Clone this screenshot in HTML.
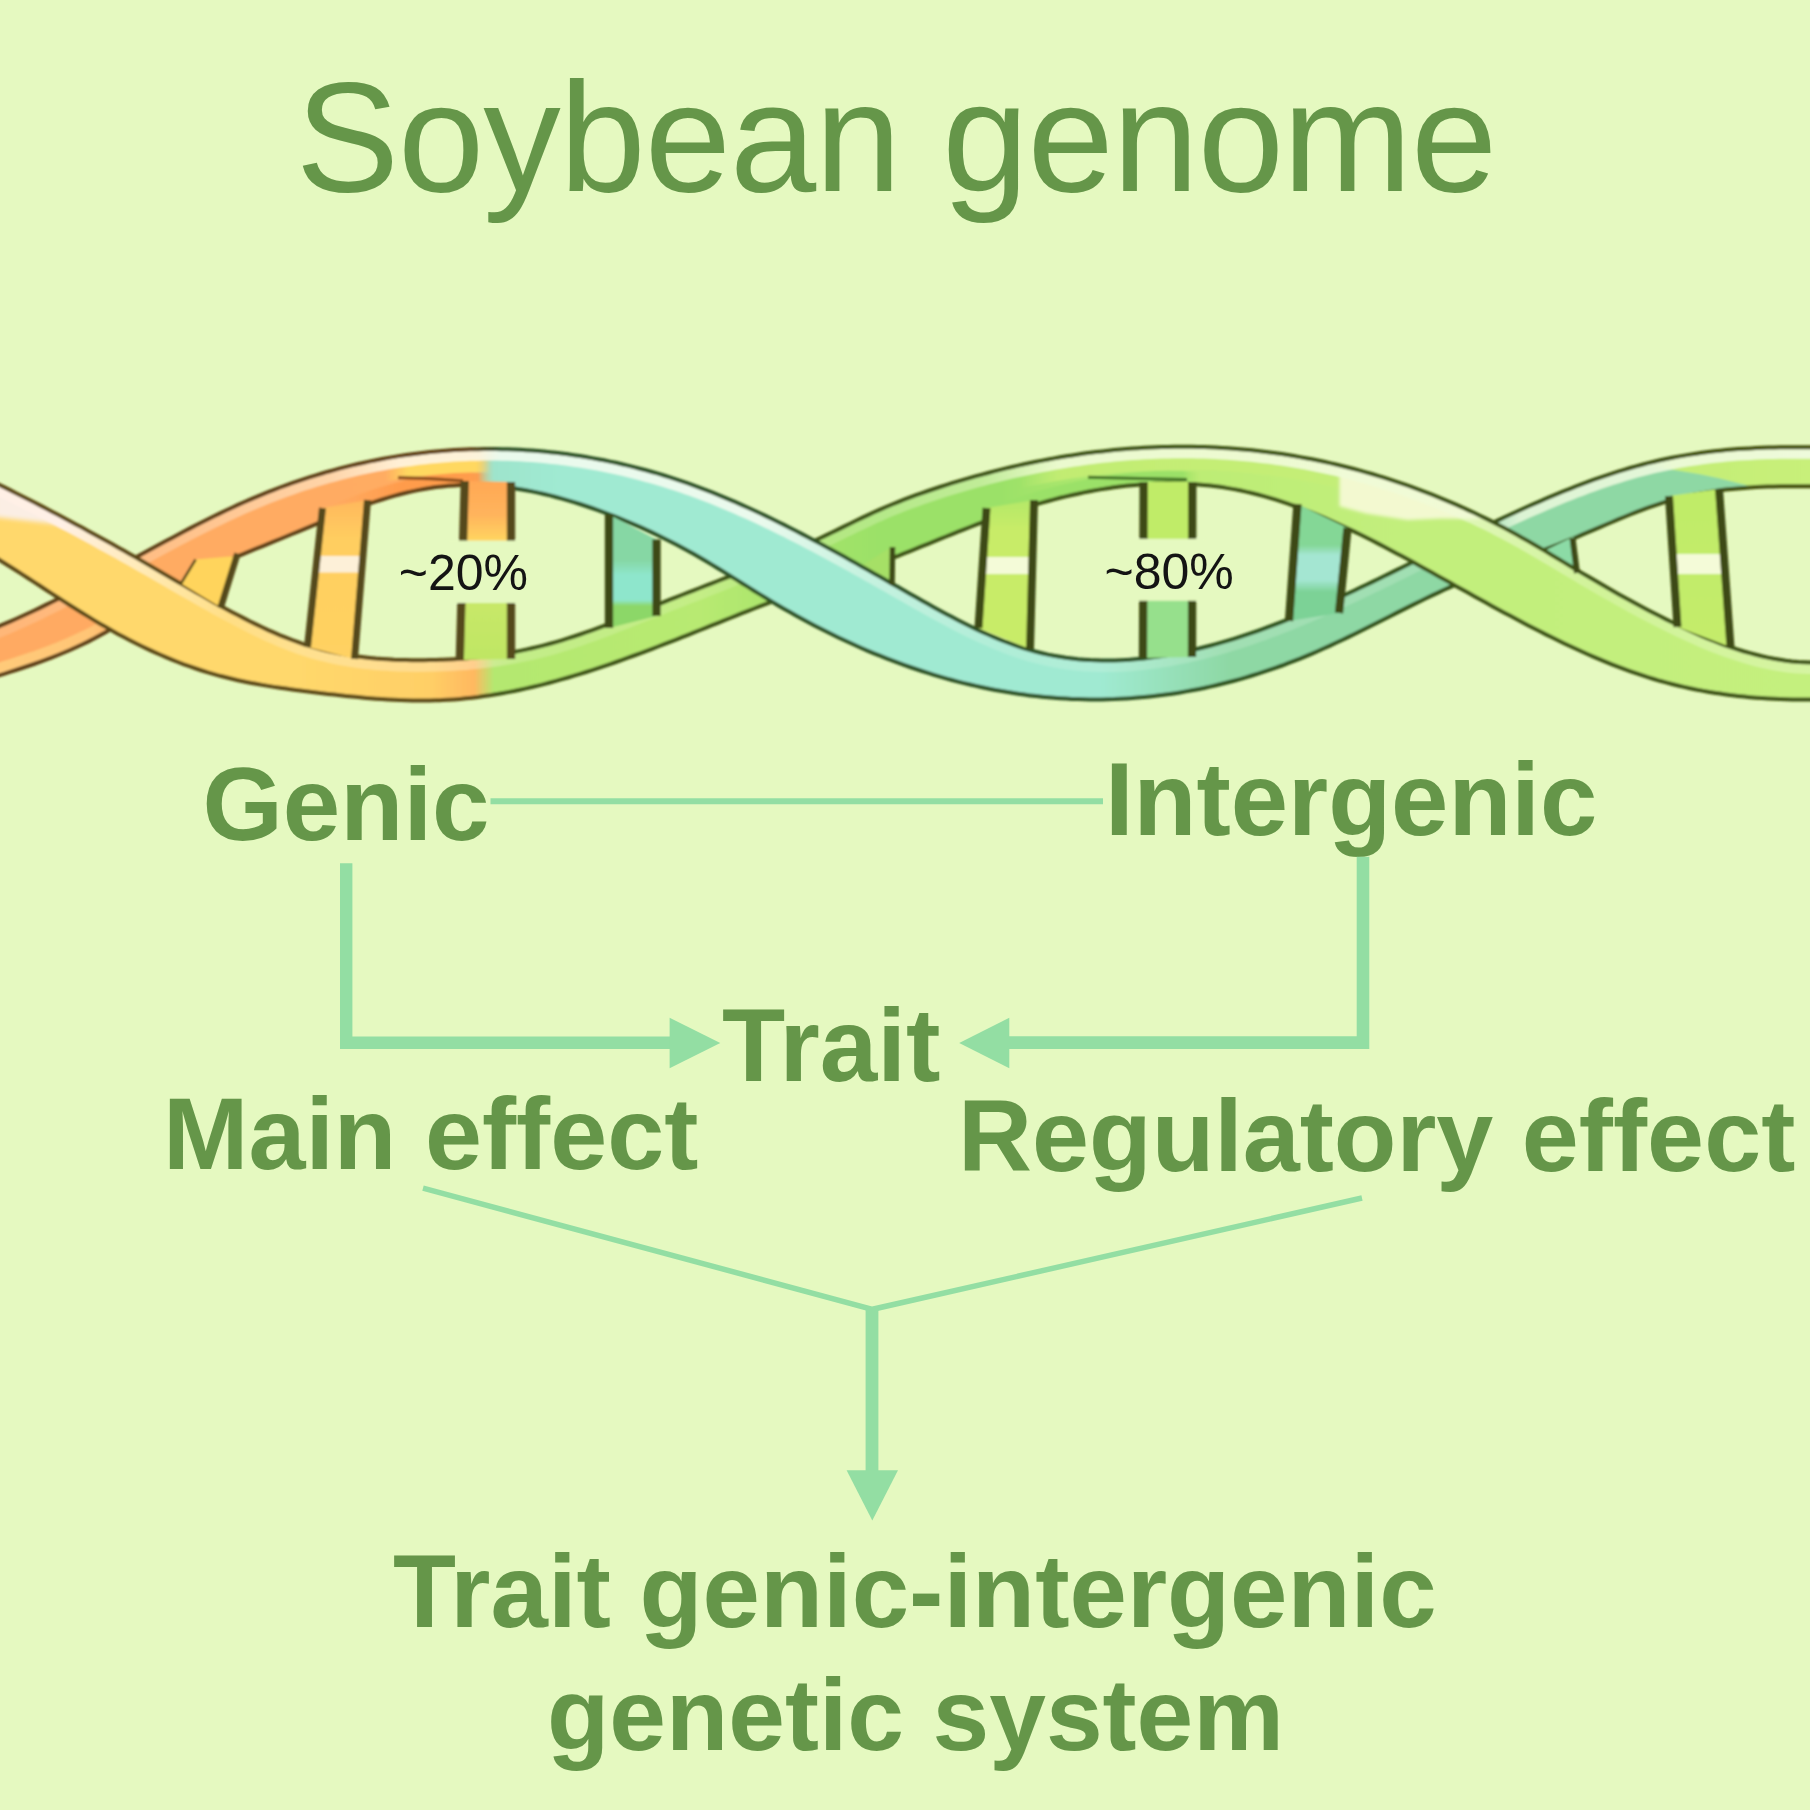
<!DOCTYPE html>
<html><head><meta charset="utf-8"><title>Soybean genome</title>
<style>
html,body{margin:0;padding:0;background:#e5f9c0;}
body{width:1810px;height:1810px;overflow:hidden;font-family:"Liberation Sans",sans-serif;}
svg{display:block;}
</style></head><body>
<svg width="1810" height="1810" viewBox="0 0 1810 1810">
<defs>
<linearGradient id="gA" gradientUnits="userSpaceOnUse" x1="0" y1="0" x2="1810" y2="0">
<stop offset="0.0000" stop-color="#ffd86c"/>
<stop offset="0.1657" stop-color="#ffd86c"/>
<stop offset="0.2376" stop-color="#ffcf66"/>
<stop offset="0.2619" stop-color="#ffb860"/>
<stop offset="0.2729" stop-color="#b4e870"/>
<stop offset="0.3867" stop-color="#b8ea72"/>
<stop offset="0.4420" stop-color="#a6e36a"/>
<stop offset="0.4862" stop-color="#9be168"/>
<stop offset="0.5525" stop-color="#9be168"/>
<stop offset="0.6409" stop-color="#bcec74"/>
<stop offset="0.7735" stop-color="#c2ef7c"/>
<stop offset="1.0000" stop-color="#c4f07e"/>
</linearGradient>
<linearGradient id="gB" gradientUnits="userSpaceOnUse" x1="0" y1="0" x2="1810" y2="0">
<stop offset="0.0000" stop-color="#ffaa62"/>
<stop offset="0.2210" stop-color="#ffac62"/>
<stop offset="0.2597" stop-color="#ffb662"/>
<stop offset="0.2729" stop-color="#9ee4cc"/>
<stop offset="0.3094" stop-color="#a0ead2"/>
<stop offset="0.6077" stop-color="#a0ead2"/>
<stop offset="0.6796" stop-color="#8ed8a4"/>
<stop offset="0.9088" stop-color="#8ed8a4"/>
<stop offset="0.9238" stop-color="#c4ee76"/>
<stop offset="1.0000" stop-color="#c8f07a"/>
</linearGradient>
<linearGradient id="oA" gradientUnits="userSpaceOnUse" x1="0" y1="0" x2="1810" y2="0">
<stop offset="0.0000" stop-color="#5c4814"/>
<stop offset="0.2597" stop-color="#5c4814"/>
<stop offset="0.2762" stop-color="#3e5212"/>
<stop offset="1.0000" stop-color="#3e5212"/>
</linearGradient>
<linearGradient id="oB" gradientUnits="userSpaceOnUse" x1="0" y1="0" x2="1810" y2="0">
<stop offset="0.0000" stop-color="#5e4016"/>
<stop offset="0.2597" stop-color="#5e4016"/>
<stop offset="0.2762" stop-color="#2e5228"/>
<stop offset="0.6077" stop-color="#2e5228"/>
<stop offset="0.6906" stop-color="#2e521c"/>
<stop offset="1.0000" stop-color="#44500f"/>
</linearGradient>
<linearGradient id="hA" gradientUnits="userSpaceOnUse" x1="0" y1="0" x2="1810" y2="0">
<stop offset="0.0000" stop-color="#fff0e6" stop-opacity="1.00"/>
<stop offset="0.0331" stop-color="#fff0e6" stop-opacity="1.00"/>
<stop offset="0.0773" stop-color="#fff2d8" stop-opacity="0.70"/>
<stop offset="0.1271" stop-color="#fff2d0" stop-opacity="0.25"/>
<stop offset="0.1657" stop-color="#fff2d0" stop-opacity="0.35"/>
<stop offset="0.2652" stop-color="#fff0d0" stop-opacity="0.40"/>
<stop offset="0.2873" stop-color="#eefad0" stop-opacity="0.25"/>
<stop offset="0.4420" stop-color="#eefad0" stop-opacity="0.20"/>
<stop offset="0.5414" stop-color="#eefad2" stop-opacity="0.45"/>
<stop offset="0.5856" stop-color="#eefbd4" stop-opacity="0.95"/>
<stop offset="0.7403" stop-color="#f0fbd8" stop-opacity="0.95"/>
<stop offset="0.8177" stop-color="#f0fbd8" stop-opacity="0.60"/>
<stop offset="0.8840" stop-color="#f0fbd8" stop-opacity="0.30"/>
<stop offset="1.0000" stop-color="#f0fbd8" stop-opacity="0.40"/>
</linearGradient>
<linearGradient id="hB" gradientUnits="userSpaceOnUse" x1="0" y1="0" x2="1810" y2="0">
<stop offset="0.0000" stop-color="#ffe8d0" stop-opacity="0.20"/>
<stop offset="0.0773" stop-color="#ffe8d0" stop-opacity="0.30"/>
<stop offset="0.1823" stop-color="#fff0d8" stop-opacity="0.60"/>
<stop offset="0.2210" stop-color="#fff4dc" stop-opacity="0.95"/>
<stop offset="0.2652" stop-color="#fdf6e0" stop-opacity="0.95"/>
<stop offset="0.2762" stop-color="#eefbee" stop-opacity="0.95"/>
<stop offset="0.4199" stop-color="#eefbee" stop-opacity="0.95"/>
<stop offset="0.4751" stop-color="#eefbee" stop-opacity="0.50"/>
<stop offset="0.5525" stop-color="#eefbee" stop-opacity="0.20"/>
<stop offset="0.8177" stop-color="#eefbee" stop-opacity="0.20"/>
<stop offset="0.8398" stop-color="#f0fbe0" stop-opacity="0.80"/>
<stop offset="1.0000" stop-color="#f0fbe0" stop-opacity="0.95"/>
</linearGradient>
<linearGradient id="tB" gradientUnits="userSpaceOnUse" x1="0" y1="0" x2="1810" y2="0">
<stop offset="0.0000" stop-color="#ffd07e" stop-opacity="0.85"/>
<stop offset="0.0497" stop-color="#ffd07e" stop-opacity="0.70"/>
<stop offset="0.0746" stop-color="#ffd07e" stop-opacity="0.00"/>
<stop offset="0.1823" stop-color="#ff9c4c" stop-opacity="0.00"/>
<stop offset="0.2210" stop-color="#ff9a4a" stop-opacity="0.90"/>
<stop offset="0.2641" stop-color="#ff9a4a" stop-opacity="0.90"/>
<stop offset="0.2718" stop-color="#8fdcc0" stop-opacity="0.00"/>
<stop offset="1.0000" stop-color="#7fd79c" stop-opacity="0.00"/>
</linearGradient>
<linearGradient id="tA" gradientUnits="userSpaceOnUse" x1="0" y1="0" x2="1810" y2="0">
<stop offset="0.0000" stop-color="#9be168" stop-opacity="0.00"/>
<stop offset="0.5304" stop-color="#9be168" stop-opacity="0.00"/>
<stop offset="0.5746" stop-color="#9be168" stop-opacity="1.00"/>
<stop offset="0.6536" stop-color="#9be168" stop-opacity="1.00"/>
<stop offset="0.6630" stop-color="#a8e464" stop-opacity="0.00"/>
<stop offset="1.0000" stop-color="#9be168" stop-opacity="0.00"/>
</linearGradient>
<clipPath id="cA_d"><rect x="-30" y="400" width="470" height="350"/><rect x="1190" y="400" width="660" height="350"/></clipPath>
<clipPath id="cA_a"><rect x="440" y="400" width="750" height="350"/></clipPath>
<clipPath id="cB_d"><rect x="470" y="400" width="660" height="350"/></clipPath>
<clipPath id="cB_a"><rect x="-30" y="400" width="500" height="350"/><rect x="1130" y="400" width="720" height="350"/></clipPath>
<path id="pRibA" d="M-20.0 475.3L-14.0 478.2L-8.0 481.2L-2.0 484.2L4.0 487.1L10.0 490.1L16.0 493.2L22.0 496.2L28.0 499.3L34.0 502.3L40.0 505.4L46.0 508.6L52.0 511.7L58.0 514.8L64.0 518.0L70.0 521.2L76.0 524.4L82.0 527.6L88.0 530.9L94.0 534.2L100.0 537.5L106.0 540.8L112.0 544.1L118.0 547.4L124.0 550.8L130.0 554.2L136.0 557.6L142.0 561.1L148.0 564.5L154.0 568.0L160.0 571.5L166.0 574.9L172.0 578.4L178.0 581.9L184.0 585.3L190.0 588.8L196.0 592.2L202.0 595.6L208.0 599.0L214.0 602.4L220.0 605.7L226.0 608.9L232.0 612.2L238.0 615.3L244.0 618.4L250.0 621.5L256.0 624.4L262.0 627.3L268.0 630.1L274.0 632.7L280.0 635.3L286.0 637.7L292.0 640.0L298.0 642.2L304.0 644.3L310.0 646.2L316.0 647.9L322.0 649.5L328.0 651.0L334.0 652.3L340.0 653.5L346.0 654.6L352.0 655.6L358.0 656.5L364.0 657.2L370.0 657.9L376.0 658.5L382.0 658.9L388.0 659.3L394.0 659.7L400.0 659.9L406.0 660.1L412.0 660.2L418.0 660.2L424.0 660.2L430.0 660.1L436.0 660.0L442.0 659.8L448.0 659.5L454.0 659.2L460.0 658.8L466.0 658.4L472.0 657.8L478.0 657.2L484.0 656.6L490.0 655.8L496.0 655.0L502.0 654.1L508.0 653.1L514.0 652.0L520.0 650.9L526.0 649.6L532.0 648.3L538.0 646.9L544.0 645.4L550.0 643.8L556.0 642.1L562.0 640.3L568.0 638.4L574.0 636.5L580.0 634.5L586.0 632.4L592.0 630.3L598.0 628.1L604.0 625.8L610.0 623.6L616.0 621.2L622.0 618.9L628.0 616.5L634.0 614.1L640.0 611.7L646.0 609.3L652.0 606.9L658.0 604.5L664.0 602.1L670.0 599.7L676.0 597.4L682.0 595.0L688.0 592.7L694.0 590.3L700.0 588.0L706.0 585.6L712.0 583.3L718.0 581.0L724.0 578.6L730.0 576.3L736.0 573.9L742.0 571.6L748.0 569.2L754.0 566.8L760.0 564.3L766.0 561.9L772.0 559.4L778.0 556.9L784.0 554.3L790.0 551.7L796.0 549.1L802.0 546.5L808.0 543.8L814.0 541.0L820.0 538.2L826.0 535.4L832.0 532.5L838.0 529.6L844.0 526.6L850.0 523.7L856.0 520.8L862.0 517.9L868.0 515.1L874.0 512.3L880.0 509.6L886.0 507.0L892.0 504.5L898.0 502.1L904.0 499.7L910.0 497.4L916.0 495.2L922.0 493.1L928.0 491.0L934.0 489.0L940.0 487.0L946.0 485.1L952.0 483.2L958.0 481.4L964.0 479.6L970.0 477.9L976.0 476.2L982.0 474.6L988.0 473.0L994.0 471.4L1000.0 469.9L1006.0 468.4L1012.0 467.0L1018.0 465.6L1024.0 464.3L1030.0 463.0L1036.0 461.8L1042.0 460.6L1048.0 459.5L1054.0 458.4L1060.0 457.3L1066.0 456.3L1072.0 455.4L1078.0 454.5L1084.0 453.6L1090.0 452.8L1096.0 452.1L1102.0 451.4L1108.0 450.7L1114.0 450.1L1120.0 449.5L1126.0 449.0L1132.0 448.6L1138.0 448.2L1144.0 447.8L1150.0 447.5L1156.0 447.3L1162.0 447.1L1168.0 446.9L1174.0 446.8L1180.0 446.8L1186.0 446.8L1192.0 446.8L1198.0 446.9L1204.0 447.1L1210.0 447.3L1216.0 447.6L1222.0 447.9L1228.0 448.3L1234.0 448.7L1240.0 449.2L1246.0 449.7L1252.0 450.3L1258.0 451.0L1264.0 451.7L1270.0 452.4L1276.0 453.3L1282.0 454.1L1288.0 455.0L1294.0 456.0L1300.0 457.1L1306.0 458.2L1312.0 459.3L1318.0 460.5L1324.0 461.8L1330.0 463.1L1336.0 464.5L1342.0 466.0L1348.0 467.5L1354.0 469.0L1360.0 470.6L1366.0 472.3L1372.0 474.0L1378.0 475.8L1384.0 477.7L1390.0 479.6L1396.0 481.6L1402.0 483.6L1408.0 485.7L1414.0 487.9L1420.0 490.1L1426.0 492.4L1432.0 494.7L1438.0 497.1L1444.0 499.6L1450.0 502.1L1456.0 504.7L1462.0 507.3L1468.0 510.1L1474.0 512.8L1480.0 515.7L1486.0 518.6L1492.0 521.6L1498.0 524.7L1504.0 527.8L1510.0 531.0L1516.0 534.3L1522.0 537.7L1528.0 541.1L1534.0 544.6L1540.0 548.1L1546.0 551.6L1552.0 555.2L1558.0 558.8L1564.0 562.4L1570.0 566.0L1576.0 569.5L1582.0 573.1L1588.0 576.6L1594.0 580.1L1600.0 583.6L1606.0 587.1L1612.0 590.5L1618.0 593.9L1624.0 597.2L1630.0 600.5L1636.0 603.8L1642.0 607.0L1648.0 610.2L1654.0 613.3L1660.0 616.3L1666.0 619.4L1672.0 622.3L1678.0 625.2L1684.0 628.0L1690.0 630.8L1696.0 633.5L1702.0 636.1L1708.0 638.6L1714.0 641.0L1720.0 643.3L1726.0 645.5L1732.0 647.6L1738.0 649.6L1744.0 651.5L1750.0 653.2L1756.0 654.8L1762.0 656.3L1768.0 657.6L1774.0 658.8L1780.0 659.8L1786.0 660.7L1792.0 661.4L1798.0 661.9L1804.0 662.2L1810.0 662.4L1816.0 662.3L1822.0 662.1L1828.0 661.6L1828.0 699.4L1822.0 699.5L1816.0 699.6L1810.0 699.6L1804.0 699.6L1798.0 699.6L1792.0 699.5L1786.0 699.3L1780.0 699.1L1774.0 698.8L1768.0 698.5L1762.0 698.1L1756.0 697.7L1750.0 697.2L1744.0 696.6L1738.0 696.0L1732.0 695.3L1726.0 694.5L1720.0 693.6L1714.0 692.7L1708.0 691.7L1702.0 690.6L1696.0 689.5L1690.0 688.2L1684.0 686.9L1678.0 685.5L1672.0 684.0L1666.0 682.4L1660.0 680.8L1654.0 679.0L1648.0 677.2L1642.0 675.2L1636.0 673.2L1630.0 671.1L1624.0 668.9L1618.0 666.6L1612.0 664.3L1606.0 661.9L1600.0 659.4L1594.0 656.8L1588.0 654.2L1582.0 651.5L1576.0 648.8L1570.0 646.0L1564.0 643.2L1558.0 640.3L1552.0 637.3L1546.0 634.4L1540.0 631.3L1534.0 628.3L1528.0 625.2L1522.0 622.0L1516.0 618.8L1510.0 615.6L1504.0 612.4L1498.0 609.2L1492.0 605.9L1486.0 602.6L1480.0 599.3L1474.0 596.0L1468.0 592.6L1462.0 589.3L1456.0 585.9L1450.0 582.6L1444.0 579.2L1438.0 575.9L1432.0 572.5L1426.0 569.2L1420.0 565.9L1414.0 562.6L1408.0 559.3L1402.0 556.1L1396.0 552.9L1390.0 549.7L1384.0 546.5L1378.0 543.4L1372.0 540.3L1366.0 537.3L1360.0 534.3L1354.0 531.4L1348.0 528.5L1342.0 525.7L1336.0 523.0L1330.0 520.3L1324.0 517.7L1318.0 515.1L1312.0 512.7L1306.0 510.3L1300.0 508.0L1294.0 505.8L1288.0 503.6L1282.0 501.6L1276.0 499.7L1270.0 497.8L1264.0 496.1L1258.0 494.5L1252.0 493.0L1246.0 491.6L1240.0 490.3L1234.0 489.1L1228.0 488.1L1222.0 487.1L1216.0 486.3L1210.0 485.6L1204.0 484.9L1198.0 484.4L1192.0 484.0L1186.0 483.7L1180.0 483.5L1174.0 483.4L1168.0 483.3L1162.0 483.4L1156.0 483.6L1150.0 483.9L1144.0 484.2L1138.0 484.7L1132.0 485.2L1126.0 485.8L1120.0 486.5L1114.0 487.3L1108.0 488.2L1102.0 489.1L1096.0 490.1L1090.0 491.2L1084.0 492.4L1078.0 493.7L1072.0 495.0L1066.0 496.4L1060.0 497.8L1054.0 499.4L1048.0 501.0L1042.0 502.6L1036.0 504.3L1030.0 506.1L1024.0 508.0L1018.0 509.9L1012.0 511.8L1006.0 513.8L1000.0 515.9L994.0 518.0L988.0 520.2L982.0 522.4L976.0 524.7L970.0 527.0L964.0 529.3L958.0 531.7L952.0 534.1L946.0 536.5L940.0 538.9L934.0 541.4L928.0 543.8L922.0 546.2L916.0 548.7L910.0 551.1L904.0 553.4L898.0 555.8L892.0 558.1L886.0 560.4L880.0 562.6L874.0 564.8L868.0 567.0L862.0 569.2L856.0 571.4L850.0 573.6L844.0 575.7L838.0 577.8L832.0 580.0L826.0 582.1L820.0 584.2L814.0 586.4L808.0 588.5L802.0 590.6L796.0 592.8L790.0 595.0L784.0 597.2L778.0 599.4L772.0 601.6L766.0 603.9L760.0 606.2L754.0 608.5L748.0 610.8L742.0 613.2L736.0 615.6L730.0 618.0L724.0 620.4L718.0 622.8L712.0 625.2L706.0 627.6L700.0 630.0L694.0 632.4L688.0 634.8L682.0 637.2L676.0 639.6L670.0 641.9L664.0 644.2L658.0 646.5L652.0 648.8L646.0 651.1L640.0 653.3L634.0 655.5L628.0 657.7L622.0 659.9L616.0 662.0L610.0 664.1L604.0 666.1L598.0 668.1L592.0 670.1L586.0 672.0L580.0 673.9L574.0 675.7L568.0 677.5L562.0 679.2L556.0 680.9L550.0 682.5L544.0 684.1L538.0 685.6L532.0 687.0L526.0 688.4L520.0 689.7L514.0 691.0L508.0 692.1L502.0 693.2L496.0 694.3L490.0 695.3L484.0 696.1L478.0 697.0L472.0 697.7L466.0 698.3L460.0 698.9L454.0 699.4L448.0 699.8L442.0 700.1L436.0 700.3L430.0 700.5L424.0 700.5L418.0 700.5L412.0 700.4L406.0 700.3L400.0 700.1L394.0 699.8L388.0 699.5L382.0 699.1L376.0 698.7L370.0 698.2L364.0 697.7L358.0 697.1L352.0 696.5L346.0 695.9L340.0 695.3L334.0 694.6L328.0 693.9L322.0 693.2L316.0 692.5L310.0 691.7L304.0 691.0L298.0 690.2L292.0 689.4L286.0 688.6L280.0 687.8L274.0 686.9L268.0 685.9L262.0 684.9L256.0 683.8L250.0 682.7L244.0 681.5L238.0 680.2L232.0 678.8L226.0 677.3L220.0 675.8L214.0 674.1L208.0 672.4L202.0 670.5L196.0 668.5L190.0 666.4L184.0 664.3L178.0 662.0L172.0 659.6L166.0 657.1L160.0 654.5L154.0 651.9L148.0 649.1L142.0 646.2L136.0 643.3L130.0 640.2L124.0 637.1L118.0 633.9L112.0 630.6L106.0 627.1L100.0 623.7L94.0 620.1L88.0 616.4L82.0 612.7L76.0 609.0L70.0 605.2L64.0 601.4L58.0 597.5L52.0 593.6L46.0 589.7L40.0 585.8L34.0 581.9L28.0 578.0L22.0 574.1L16.0 570.3L10.0 566.5L4.0 562.7L-2.0 559.0L-8.0 555.3L-14.0 551.7L-20.0 548.2Z"/>
<path id="pRibB" d="M-20.0 633.6L-14.0 631.3L-8.0 629.0L-2.0 626.6L4.0 624.1L10.0 621.6L16.0 619.0L22.0 616.3L28.0 613.5L34.0 610.7L40.0 607.9L46.0 604.9L52.0 602.0L58.0 599.0L64.0 595.9L70.0 592.8L76.0 589.7L82.0 586.5L88.0 583.4L94.0 580.2L100.0 576.9L106.0 573.7L112.0 570.4L118.0 567.2L124.0 563.9L130.0 560.6L136.0 557.3L142.0 554.1L148.0 550.8L154.0 547.5L160.0 544.3L166.0 541.1L172.0 537.9L178.0 534.7L184.0 531.5L190.0 528.4L196.0 525.3L202.0 522.3L208.0 519.2L214.0 516.3L220.0 513.4L226.0 510.5L232.0 507.7L238.0 504.9L244.0 502.2L250.0 499.6L256.0 497.1L262.0 494.6L268.0 492.2L274.0 489.8L280.0 487.5L286.0 485.3L292.0 483.2L298.0 481.1L304.0 479.1L310.0 477.2L316.0 475.3L322.0 473.5L328.0 471.7L334.0 470.1L340.0 468.4L346.0 466.9L352.0 465.4L358.0 464.0L364.0 462.7L370.0 461.4L376.0 460.2L382.0 459.0L388.0 457.9L394.0 456.9L400.0 455.9L406.0 455.0L412.0 454.2L418.0 453.4L424.0 452.7L430.0 452.1L436.0 451.5L442.0 451.0L448.0 450.5L454.0 450.1L460.0 449.8L466.0 449.5L472.0 449.3L478.0 449.2L484.0 449.1L490.0 449.0L496.0 449.1L502.0 449.2L508.0 449.3L514.0 449.6L520.0 449.8L526.0 450.2L532.0 450.6L538.0 451.0L544.0 451.6L550.0 452.2L556.0 452.8L562.0 453.5L568.0 454.3L574.0 455.2L580.0 456.1L586.0 457.0L592.0 458.1L598.0 459.2L604.0 460.3L610.0 461.6L616.0 462.8L622.0 464.2L628.0 465.6L634.0 467.1L640.0 468.7L646.0 470.3L652.0 472.0L658.0 473.7L664.0 475.5L670.0 477.4L676.0 479.3L682.0 481.4L688.0 483.4L694.0 485.6L700.0 487.8L706.0 490.1L712.0 492.4L718.0 494.8L724.0 497.3L730.0 499.8L736.0 502.4L742.0 505.1L748.0 507.8L754.0 510.5L760.0 513.3L766.0 516.1L772.0 519.0L778.0 522.0L784.0 524.9L790.0 528.0L796.0 531.0L802.0 534.1L808.0 537.2L814.0 540.4L820.0 543.6L826.0 546.8L832.0 550.1L838.0 553.3L844.0 556.6L850.0 560.0L856.0 563.3L862.0 566.7L868.0 570.0L874.0 573.4L880.0 576.8L886.0 580.2L892.0 583.7L898.0 587.1L904.0 590.5L910.0 593.9L916.0 597.3L922.0 600.7L928.0 604.1L934.0 607.4L940.0 610.7L946.0 613.9L952.0 617.1L958.0 620.2L964.0 623.2L970.0 626.2L976.0 629.1L982.0 631.9L988.0 634.5L994.0 637.1L1000.0 639.6L1006.0 642.0L1012.0 644.2L1018.0 646.3L1024.0 648.3L1030.0 650.1L1036.0 651.7L1042.0 653.2L1048.0 654.6L1054.0 655.8L1060.0 656.8L1066.0 657.8L1072.0 658.5L1078.0 659.2L1084.0 659.7L1090.0 660.1L1096.0 660.3L1102.0 660.5L1108.0 660.5L1114.0 660.4L1120.0 660.2L1126.0 659.9L1132.0 659.5L1138.0 659.0L1144.0 658.4L1150.0 657.6L1156.0 656.8L1162.0 655.9L1168.0 655.0L1174.0 653.9L1180.0 652.7L1186.0 651.5L1192.0 650.2L1198.0 648.8L1204.0 647.3L1210.0 645.7L1216.0 644.1L1222.0 642.4L1228.0 640.6L1234.0 638.8L1240.0 636.9L1246.0 634.9L1252.0 632.9L1258.0 630.8L1264.0 628.7L1270.0 626.4L1276.0 624.2L1282.0 621.9L1288.0 619.5L1294.0 617.1L1300.0 614.6L1306.0 612.1L1312.0 609.6L1318.0 607.0L1324.0 604.3L1330.0 601.7L1336.0 599.0L1342.0 596.2L1348.0 593.5L1354.0 590.7L1360.0 587.8L1366.0 585.0L1372.0 582.1L1378.0 579.2L1384.0 576.3L1390.0 573.4L1396.0 570.4L1402.0 567.5L1408.0 564.5L1414.0 561.5L1420.0 558.6L1426.0 555.6L1432.0 552.6L1438.0 549.6L1444.0 546.6L1450.0 543.7L1456.0 540.7L1462.0 537.7L1468.0 534.8L1474.0 531.9L1480.0 529.0L1486.0 526.1L1492.0 523.2L1498.0 520.4L1504.0 517.5L1510.0 514.7L1516.0 512.0L1522.0 509.2L1528.0 506.5L1534.0 503.9L1540.0 501.3L1546.0 498.7L1552.0 496.1L1558.0 493.6L1564.0 491.2L1570.0 488.8L1576.0 486.4L1582.0 484.2L1588.0 481.9L1594.0 479.7L1600.0 477.6L1606.0 475.6L1612.0 473.6L1618.0 471.7L1624.0 469.8L1630.0 468.0L1636.0 466.3L1642.0 464.7L1648.0 463.1L1654.0 461.7L1660.0 460.3L1666.0 459.0L1672.0 457.8L1678.0 456.6L1684.0 455.6L1690.0 454.6L1696.0 453.7L1702.0 452.8L1708.0 452.0L1714.0 451.3L1720.0 450.7L1726.0 450.1L1732.0 449.6L1738.0 449.1L1744.0 448.7L1750.0 448.4L1756.0 448.1L1762.0 447.8L1768.0 447.6L1774.0 447.4L1780.0 447.3L1786.0 447.3L1792.0 447.2L1798.0 447.2L1804.0 447.3L1810.0 447.3L1816.0 447.4L1822.0 447.6L1828.0 447.7L1828.0 486.5L1822.0 486.4L1816.0 486.3L1810.0 486.3L1804.0 486.2L1798.0 486.2L1792.0 486.2L1786.0 486.2L1780.0 486.3L1774.0 486.4L1768.0 486.6L1762.0 486.8L1756.0 487.1L1750.0 487.5L1744.0 487.9L1738.0 488.4L1732.0 488.9L1726.0 489.6L1720.0 490.3L1714.0 491.2L1708.0 492.1L1702.0 493.1L1696.0 494.2L1690.0 495.5L1684.0 496.8L1678.0 498.3L1672.0 499.9L1666.0 501.7L1660.0 503.6L1654.0 505.6L1648.0 507.7L1642.0 509.9L1636.0 512.2L1630.0 514.5L1624.0 517.0L1618.0 519.4L1612.0 522.0L1606.0 524.5L1600.0 527.1L1594.0 529.6L1588.0 532.2L1582.0 534.7L1576.0 537.3L1570.0 539.7L1564.0 542.2L1558.0 544.6L1552.0 546.9L1546.0 549.2L1540.0 551.5L1534.0 553.8L1528.0 556.0L1522.0 558.3L1516.0 560.5L1510.0 562.8L1504.0 565.1L1498.0 567.4L1492.0 569.7L1486.0 572.0L1480.0 574.4L1474.0 576.8L1468.0 579.3L1462.0 581.8L1456.0 584.4L1450.0 587.1L1444.0 589.8L1438.0 592.6L1432.0 595.4L1426.0 598.3L1420.0 601.2L1414.0 604.1L1408.0 607.1L1402.0 610.1L1396.0 613.1L1390.0 616.2L1384.0 619.2L1378.0 622.2L1372.0 625.2L1366.0 628.2L1360.0 631.2L1354.0 634.2L1348.0 637.1L1342.0 640.0L1336.0 642.8L1330.0 645.6L1324.0 648.3L1318.0 651.0L1312.0 653.6L1306.0 656.1L1300.0 658.6L1294.0 660.9L1288.0 663.2L1282.0 665.5L1276.0 667.6L1270.0 669.7L1264.0 671.7L1258.0 673.7L1252.0 675.5L1246.0 677.3L1240.0 679.1L1234.0 680.7L1228.0 682.3L1222.0 683.8L1216.0 685.3L1210.0 686.6L1204.0 688.0L1198.0 689.2L1192.0 690.3L1186.0 691.4L1180.0 692.5L1174.0 693.4L1168.0 694.3L1162.0 695.1L1156.0 695.8L1150.0 696.5L1144.0 697.1L1138.0 697.6L1132.0 698.1L1126.0 698.5L1120.0 698.8L1114.0 699.1L1108.0 699.2L1102.0 699.4L1096.0 699.4L1090.0 699.4L1084.0 699.3L1078.0 699.1L1072.0 698.9L1066.0 698.6L1060.0 698.2L1054.0 697.8L1048.0 697.3L1042.0 696.7L1036.0 696.1L1030.0 695.4L1024.0 694.6L1018.0 693.7L1012.0 692.8L1006.0 691.8L1000.0 690.8L994.0 689.7L988.0 688.5L982.0 687.2L976.0 685.9L970.0 684.5L964.0 683.1L958.0 681.6L952.0 680.0L946.0 678.3L940.0 676.6L934.0 674.8L928.0 672.9L922.0 671.0L916.0 669.0L910.0 667.0L904.0 664.9L898.0 662.7L892.0 660.4L886.0 658.1L880.0 655.7L874.0 653.3L868.0 650.8L862.0 648.2L856.0 645.5L850.0 642.8L844.0 640.0L838.0 637.2L832.0 634.3L826.0 631.3L820.0 628.3L814.0 625.2L808.0 622.0L802.0 618.8L796.0 615.5L790.0 612.1L784.0 608.7L778.0 605.2L772.0 601.6L766.0 598.0L760.0 594.4L754.0 590.7L748.0 586.9L742.0 583.2L736.0 579.4L730.0 575.7L724.0 571.9L718.0 568.2L712.0 564.6L706.0 561.0L700.0 557.5L694.0 554.1L688.0 550.7L682.0 547.5L676.0 544.3L670.0 541.2L664.0 538.2L658.0 535.3L652.0 532.4L646.0 529.6L640.0 526.9L634.0 524.3L628.0 521.8L622.0 519.3L616.0 516.9L610.0 514.6L604.0 512.3L598.0 510.1L592.0 508.0L586.0 506.0L580.0 504.0L574.0 502.1L568.0 500.3L562.0 498.6L556.0 497.0L550.0 495.4L544.0 494.0L538.0 492.6L532.0 491.4L526.0 490.2L520.0 489.2L514.0 488.2L508.0 487.4L502.0 486.7L496.0 486.1L490.0 485.6L484.0 485.2L478.0 485.0L472.0 484.9L466.0 484.9L460.0 485.1L454.0 485.4L448.0 485.8L442.0 486.4L436.0 487.1L430.0 488.0L424.0 489.0L418.0 490.1L412.0 491.4L406.0 492.8L400.0 494.3L394.0 495.9L388.0 497.7L382.0 499.5L376.0 501.4L370.0 503.4L364.0 505.5L358.0 507.6L352.0 509.9L346.0 512.1L340.0 514.4L334.0 516.8L328.0 519.2L322.0 521.6L316.0 524.1L310.0 526.6L304.0 529.1L298.0 531.6L292.0 534.0L286.0 536.5L280.0 539.0L274.0 541.4L268.0 543.8L262.0 546.3L256.0 548.7L250.0 551.1L244.0 553.6L238.0 556.1L232.0 558.6L226.0 561.2L220.0 563.9L214.0 566.7L208.0 569.6L202.0 572.6L196.0 575.7L190.0 578.9L184.0 582.3L178.0 585.8L172.0 589.5L166.0 593.2L160.0 597.1L154.0 601.1L148.0 605.1L142.0 609.1L136.0 613.1L130.0 617.0L124.0 620.9L118.0 624.7L112.0 628.4L106.0 631.9L100.0 635.3L94.0 638.5L88.0 641.6L82.0 644.5L76.0 647.3L70.0 650.0L64.0 652.5L58.0 655.0L52.0 657.4L46.0 659.6L40.0 661.8L34.0 664.0L28.0 666.0L22.0 668.0L16.0 670.0L10.0 671.9L4.0 673.8L-2.0 675.6L-8.0 677.5L-14.0 679.3L-20.0 681.2Z"/>
<path id="pUA" d="M-20.0 475.3L-14.0 478.2L-8.0 481.2L-2.0 484.2L4.0 487.1L10.0 490.1L16.0 493.2L22.0 496.2L28.0 499.3L34.0 502.3L40.0 505.4L46.0 508.6L52.0 511.7L58.0 514.8L64.0 518.0L70.0 521.2L76.0 524.4L82.0 527.6L88.0 530.9L94.0 534.2L100.0 537.5L106.0 540.8L112.0 544.1L118.0 547.4L124.0 550.8L130.0 554.2L136.0 557.6L142.0 561.1L148.0 564.5L154.0 568.0L160.0 571.5L166.0 574.9L172.0 578.4L178.0 581.9L184.0 585.3L190.0 588.8L196.0 592.2L202.0 595.6L208.0 599.0L214.0 602.4L220.0 605.7L226.0 608.9L232.0 612.2L238.0 615.3L244.0 618.4L250.0 621.5L256.0 624.4L262.0 627.3L268.0 630.1L274.0 632.7L280.0 635.3L286.0 637.7L292.0 640.0L298.0 642.2L304.0 644.3L310.0 646.2L316.0 647.9L322.0 649.5L328.0 651.0L334.0 652.3L340.0 653.5L346.0 654.6L352.0 655.6L358.0 656.5L364.0 657.2L370.0 657.9L376.0 658.5L382.0 658.9L388.0 659.3L394.0 659.7L400.0 659.9L406.0 660.1L412.0 660.2L418.0 660.2L424.0 660.2L430.0 660.1L436.0 660.0L442.0 659.8L448.0 659.5L454.0 659.2L460.0 658.8L466.0 658.4L472.0 657.8L478.0 657.2L484.0 656.6L490.0 655.8L496.0 655.0L502.0 654.1L508.0 653.1L514.0 652.0L520.0 650.9L526.0 649.6L532.0 648.3L538.0 646.9L544.0 645.4L550.0 643.8L556.0 642.1L562.0 640.3L568.0 638.4L574.0 636.5L580.0 634.5L586.0 632.4L592.0 630.3L598.0 628.1L604.0 625.8L610.0 623.6L616.0 621.2L622.0 618.9L628.0 616.5L634.0 614.1L640.0 611.7L646.0 609.3L652.0 606.9L658.0 604.5L664.0 602.1L670.0 599.7L676.0 597.4L682.0 595.0L688.0 592.7L694.0 590.3L700.0 588.0L706.0 585.6L712.0 583.3L718.0 581.0L724.0 578.6L730.0 576.3L736.0 573.9L742.0 571.6L748.0 569.2L754.0 566.8L760.0 564.3L766.0 561.9L772.0 559.4L778.0 556.9L784.0 554.3L790.0 551.7L796.0 549.1L802.0 546.5L808.0 543.8L814.0 541.0L820.0 538.2L826.0 535.4L832.0 532.5L838.0 529.6L844.0 526.6L850.0 523.7L856.0 520.8L862.0 517.9L868.0 515.1L874.0 512.3L880.0 509.6L886.0 507.0L892.0 504.5L898.0 502.1L904.0 499.7L910.0 497.4L916.0 495.2L922.0 493.1L928.0 491.0L934.0 489.0L940.0 487.0L946.0 485.1L952.0 483.2L958.0 481.4L964.0 479.6L970.0 477.9L976.0 476.2L982.0 474.6L988.0 473.0L994.0 471.4L1000.0 469.9L1006.0 468.4L1012.0 467.0L1018.0 465.6L1024.0 464.3L1030.0 463.0L1036.0 461.8L1042.0 460.6L1048.0 459.5L1054.0 458.4L1060.0 457.3L1066.0 456.3L1072.0 455.4L1078.0 454.5L1084.0 453.6L1090.0 452.8L1096.0 452.1L1102.0 451.4L1108.0 450.7L1114.0 450.1L1120.0 449.5L1126.0 449.0L1132.0 448.6L1138.0 448.2L1144.0 447.8L1150.0 447.5L1156.0 447.3L1162.0 447.1L1168.0 446.9L1174.0 446.8L1180.0 446.8L1186.0 446.8L1192.0 446.8L1198.0 446.9L1204.0 447.1L1210.0 447.3L1216.0 447.6L1222.0 447.9L1228.0 448.3L1234.0 448.7L1240.0 449.2L1246.0 449.7L1252.0 450.3L1258.0 451.0L1264.0 451.7L1270.0 452.4L1276.0 453.3L1282.0 454.1L1288.0 455.0L1294.0 456.0L1300.0 457.1L1306.0 458.2L1312.0 459.3L1318.0 460.5L1324.0 461.8L1330.0 463.1L1336.0 464.5L1342.0 466.0L1348.0 467.5L1354.0 469.0L1360.0 470.6L1366.0 472.3L1372.0 474.0L1378.0 475.8L1384.0 477.7L1390.0 479.6L1396.0 481.6L1402.0 483.6L1408.0 485.7L1414.0 487.9L1420.0 490.1L1426.0 492.4L1432.0 494.7L1438.0 497.1L1444.0 499.6L1450.0 502.1L1456.0 504.7L1462.0 507.3L1468.0 510.1L1474.0 512.8L1480.0 515.7L1486.0 518.6L1492.0 521.6L1498.0 524.7L1504.0 527.8L1510.0 531.0L1516.0 534.3L1522.0 537.7L1528.0 541.1L1534.0 544.6L1540.0 548.1L1546.0 551.6L1552.0 555.2L1558.0 558.8L1564.0 562.4L1570.0 566.0L1576.0 569.5L1582.0 573.1L1588.0 576.6L1594.0 580.1L1600.0 583.6L1606.0 587.1L1612.0 590.5L1618.0 593.9L1624.0 597.2L1630.0 600.5L1636.0 603.8L1642.0 607.0L1648.0 610.2L1654.0 613.3L1660.0 616.3L1666.0 619.4L1672.0 622.3L1678.0 625.2L1684.0 628.0L1690.0 630.8L1696.0 633.5L1702.0 636.1L1708.0 638.6L1714.0 641.0L1720.0 643.3L1726.0 645.5L1732.0 647.6L1738.0 649.6L1744.0 651.5L1750.0 653.2L1756.0 654.8L1762.0 656.3L1768.0 657.6L1774.0 658.8L1780.0 659.8L1786.0 660.7L1792.0 661.4L1798.0 661.9L1804.0 662.2L1810.0 662.4L1816.0 662.3L1822.0 662.1L1828.0 661.6"/>
<path id="pLA" d="M-20.0 548.2L-14.0 551.7L-8.0 555.3L-2.0 559.0L4.0 562.7L10.0 566.5L16.0 570.3L22.0 574.1L28.0 578.0L34.0 581.9L40.0 585.8L46.0 589.7L52.0 593.6L58.0 597.5L64.0 601.4L70.0 605.2L76.0 609.0L82.0 612.7L88.0 616.4L94.0 620.1L100.0 623.7L106.0 627.1L112.0 630.6L118.0 633.9L124.0 637.1L130.0 640.2L136.0 643.3L142.0 646.2L148.0 649.1L154.0 651.9L160.0 654.5L166.0 657.1L172.0 659.6L178.0 662.0L184.0 664.3L190.0 666.4L196.0 668.5L202.0 670.5L208.0 672.4L214.0 674.1L220.0 675.8L226.0 677.3L232.0 678.8L238.0 680.2L244.0 681.5L250.0 682.7L256.0 683.8L262.0 684.9L268.0 685.9L274.0 686.9L280.0 687.8L286.0 688.6L292.0 689.4L298.0 690.2L304.0 691.0L310.0 691.7L316.0 692.5L322.0 693.2L328.0 693.9L334.0 694.6L340.0 695.3L346.0 695.9L352.0 696.5L358.0 697.1L364.0 697.7L370.0 698.2L376.0 698.7L382.0 699.1L388.0 699.5L394.0 699.8L400.0 700.1L406.0 700.3L412.0 700.4L418.0 700.5L424.0 700.5L430.0 700.5L436.0 700.3L442.0 700.1L448.0 699.8L454.0 699.4L460.0 698.9L466.0 698.3L472.0 697.7L478.0 697.0L484.0 696.1L490.0 695.3L496.0 694.3L502.0 693.2L508.0 692.1L514.0 691.0L520.0 689.7L526.0 688.4L532.0 687.0L538.0 685.6L544.0 684.1L550.0 682.5L556.0 680.9L562.0 679.2L568.0 677.5L574.0 675.7L580.0 673.9L586.0 672.0L592.0 670.1L598.0 668.1L604.0 666.1L610.0 664.1L616.0 662.0L622.0 659.9L628.0 657.7L634.0 655.5L640.0 653.3L646.0 651.1L652.0 648.8L658.0 646.5L664.0 644.2L670.0 641.9L676.0 639.6L682.0 637.2L688.0 634.8L694.0 632.4L700.0 630.0L706.0 627.6L712.0 625.2L718.0 622.8L724.0 620.4L730.0 618.0L736.0 615.6L742.0 613.2L748.0 610.8L754.0 608.5L760.0 606.2L766.0 603.9L772.0 601.6L778.0 599.4L784.0 597.2L790.0 595.0L796.0 592.8L802.0 590.6L808.0 588.5L814.0 586.4L820.0 584.2L826.0 582.1L832.0 580.0L838.0 577.8L844.0 575.7L850.0 573.6L856.0 571.4L862.0 569.2L868.0 567.0L874.0 564.8L880.0 562.6L886.0 560.4L892.0 558.1L898.0 555.8L904.0 553.4L910.0 551.1L916.0 548.7L922.0 546.2L928.0 543.8L934.0 541.4L940.0 538.9L946.0 536.5L952.0 534.1L958.0 531.7L964.0 529.3L970.0 527.0L976.0 524.7L982.0 522.4L988.0 520.2L994.0 518.0L1000.0 515.9L1006.0 513.8L1012.0 511.8L1018.0 509.9L1024.0 508.0L1030.0 506.1L1036.0 504.3L1042.0 502.6L1048.0 501.0L1054.0 499.4L1060.0 497.8L1066.0 496.4L1072.0 495.0L1078.0 493.7L1084.0 492.4L1090.0 491.2L1096.0 490.1L1102.0 489.1L1108.0 488.2L1114.0 487.3L1120.0 486.5L1126.0 485.8L1132.0 485.2L1138.0 484.7L1144.0 484.2L1150.0 483.9L1156.0 483.6L1162.0 483.4L1168.0 483.3L1174.0 483.4L1180.0 483.5L1186.0 483.7L1192.0 484.0L1198.0 484.4L1204.0 484.9L1210.0 485.6L1216.0 486.3L1222.0 487.1L1228.0 488.1L1234.0 489.1L1240.0 490.3L1246.0 491.6L1252.0 493.0L1258.0 494.5L1264.0 496.1L1270.0 497.8L1276.0 499.7L1282.0 501.6L1288.0 503.6L1294.0 505.8L1300.0 508.0L1306.0 510.3L1312.0 512.7L1318.0 515.1L1324.0 517.7L1330.0 520.3L1336.0 523.0L1342.0 525.7L1348.0 528.5L1354.0 531.4L1360.0 534.3L1366.0 537.3L1372.0 540.3L1378.0 543.4L1384.0 546.5L1390.0 549.7L1396.0 552.9L1402.0 556.1L1408.0 559.3L1414.0 562.6L1420.0 565.9L1426.0 569.2L1432.0 572.5L1438.0 575.9L1444.0 579.2L1450.0 582.6L1456.0 585.9L1462.0 589.3L1468.0 592.6L1474.0 596.0L1480.0 599.3L1486.0 602.6L1492.0 605.9L1498.0 609.2L1504.0 612.4L1510.0 615.6L1516.0 618.8L1522.0 622.0L1528.0 625.2L1534.0 628.3L1540.0 631.3L1546.0 634.4L1552.0 637.3L1558.0 640.3L1564.0 643.2L1570.0 646.0L1576.0 648.8L1582.0 651.5L1588.0 654.2L1594.0 656.8L1600.0 659.4L1606.0 661.9L1612.0 664.3L1618.0 666.6L1624.0 668.9L1630.0 671.1L1636.0 673.2L1642.0 675.2L1648.0 677.2L1654.0 679.0L1660.0 680.8L1666.0 682.4L1672.0 684.0L1678.0 685.5L1684.0 686.9L1690.0 688.2L1696.0 689.5L1702.0 690.6L1708.0 691.7L1714.0 692.7L1720.0 693.6L1726.0 694.5L1732.0 695.3L1738.0 696.0L1744.0 696.6L1750.0 697.2L1756.0 697.7L1762.0 698.1L1768.0 698.5L1774.0 698.8L1780.0 699.1L1786.0 699.3L1792.0 699.5L1798.0 699.6L1804.0 699.6L1810.0 699.6L1816.0 699.6L1822.0 699.5L1828.0 699.4"/>
<path id="pUB" d="M-20.0 633.6L-14.0 631.3L-8.0 629.0L-2.0 626.6L4.0 624.1L10.0 621.6L16.0 619.0L22.0 616.3L28.0 613.5L34.0 610.7L40.0 607.9L46.0 604.9L52.0 602.0L58.0 599.0L64.0 595.9L70.0 592.8L76.0 589.7L82.0 586.5L88.0 583.4L94.0 580.2L100.0 576.9L106.0 573.7L112.0 570.4L118.0 567.2L124.0 563.9L130.0 560.6L136.0 557.3L142.0 554.1L148.0 550.8L154.0 547.5L160.0 544.3L166.0 541.1L172.0 537.9L178.0 534.7L184.0 531.5L190.0 528.4L196.0 525.3L202.0 522.3L208.0 519.2L214.0 516.3L220.0 513.4L226.0 510.5L232.0 507.7L238.0 504.9L244.0 502.2L250.0 499.6L256.0 497.1L262.0 494.6L268.0 492.2L274.0 489.8L280.0 487.5L286.0 485.3L292.0 483.2L298.0 481.1L304.0 479.1L310.0 477.2L316.0 475.3L322.0 473.5L328.0 471.7L334.0 470.1L340.0 468.4L346.0 466.9L352.0 465.4L358.0 464.0L364.0 462.7L370.0 461.4L376.0 460.2L382.0 459.0L388.0 457.9L394.0 456.9L400.0 455.9L406.0 455.0L412.0 454.2L418.0 453.4L424.0 452.7L430.0 452.1L436.0 451.5L442.0 451.0L448.0 450.5L454.0 450.1L460.0 449.8L466.0 449.5L472.0 449.3L478.0 449.2L484.0 449.1L490.0 449.0L496.0 449.1L502.0 449.2L508.0 449.3L514.0 449.6L520.0 449.8L526.0 450.2L532.0 450.6L538.0 451.0L544.0 451.6L550.0 452.2L556.0 452.8L562.0 453.5L568.0 454.3L574.0 455.2L580.0 456.1L586.0 457.0L592.0 458.1L598.0 459.2L604.0 460.3L610.0 461.6L616.0 462.8L622.0 464.2L628.0 465.6L634.0 467.1L640.0 468.7L646.0 470.3L652.0 472.0L658.0 473.7L664.0 475.5L670.0 477.4L676.0 479.3L682.0 481.4L688.0 483.4L694.0 485.6L700.0 487.8L706.0 490.1L712.0 492.4L718.0 494.8L724.0 497.3L730.0 499.8L736.0 502.4L742.0 505.1L748.0 507.8L754.0 510.5L760.0 513.3L766.0 516.1L772.0 519.0L778.0 522.0L784.0 524.9L790.0 528.0L796.0 531.0L802.0 534.1L808.0 537.2L814.0 540.4L820.0 543.6L826.0 546.8L832.0 550.1L838.0 553.3L844.0 556.6L850.0 560.0L856.0 563.3L862.0 566.7L868.0 570.0L874.0 573.4L880.0 576.8L886.0 580.2L892.0 583.7L898.0 587.1L904.0 590.5L910.0 593.9L916.0 597.3L922.0 600.7L928.0 604.1L934.0 607.4L940.0 610.7L946.0 613.9L952.0 617.1L958.0 620.2L964.0 623.2L970.0 626.2L976.0 629.1L982.0 631.9L988.0 634.5L994.0 637.1L1000.0 639.6L1006.0 642.0L1012.0 644.2L1018.0 646.3L1024.0 648.3L1030.0 650.1L1036.0 651.7L1042.0 653.2L1048.0 654.6L1054.0 655.8L1060.0 656.8L1066.0 657.8L1072.0 658.5L1078.0 659.2L1084.0 659.7L1090.0 660.1L1096.0 660.3L1102.0 660.5L1108.0 660.5L1114.0 660.4L1120.0 660.2L1126.0 659.9L1132.0 659.5L1138.0 659.0L1144.0 658.4L1150.0 657.6L1156.0 656.8L1162.0 655.9L1168.0 655.0L1174.0 653.9L1180.0 652.7L1186.0 651.5L1192.0 650.2L1198.0 648.8L1204.0 647.3L1210.0 645.7L1216.0 644.1L1222.0 642.4L1228.0 640.6L1234.0 638.8L1240.0 636.9L1246.0 634.9L1252.0 632.9L1258.0 630.8L1264.0 628.7L1270.0 626.4L1276.0 624.2L1282.0 621.9L1288.0 619.5L1294.0 617.1L1300.0 614.6L1306.0 612.1L1312.0 609.6L1318.0 607.0L1324.0 604.3L1330.0 601.7L1336.0 599.0L1342.0 596.2L1348.0 593.5L1354.0 590.7L1360.0 587.8L1366.0 585.0L1372.0 582.1L1378.0 579.2L1384.0 576.3L1390.0 573.4L1396.0 570.4L1402.0 567.5L1408.0 564.5L1414.0 561.5L1420.0 558.6L1426.0 555.6L1432.0 552.6L1438.0 549.6L1444.0 546.6L1450.0 543.7L1456.0 540.7L1462.0 537.7L1468.0 534.8L1474.0 531.9L1480.0 529.0L1486.0 526.1L1492.0 523.2L1498.0 520.4L1504.0 517.5L1510.0 514.7L1516.0 512.0L1522.0 509.2L1528.0 506.5L1534.0 503.9L1540.0 501.3L1546.0 498.7L1552.0 496.1L1558.0 493.6L1564.0 491.2L1570.0 488.8L1576.0 486.4L1582.0 484.2L1588.0 481.9L1594.0 479.7L1600.0 477.6L1606.0 475.6L1612.0 473.6L1618.0 471.7L1624.0 469.8L1630.0 468.0L1636.0 466.3L1642.0 464.7L1648.0 463.1L1654.0 461.7L1660.0 460.3L1666.0 459.0L1672.0 457.8L1678.0 456.6L1684.0 455.6L1690.0 454.6L1696.0 453.7L1702.0 452.8L1708.0 452.0L1714.0 451.3L1720.0 450.7L1726.0 450.1L1732.0 449.6L1738.0 449.1L1744.0 448.7L1750.0 448.4L1756.0 448.1L1762.0 447.8L1768.0 447.6L1774.0 447.4L1780.0 447.3L1786.0 447.3L1792.0 447.2L1798.0 447.2L1804.0 447.3L1810.0 447.3L1816.0 447.4L1822.0 447.6L1828.0 447.7"/>
<path id="pLB" d="M-20.0 681.2L-14.0 679.3L-8.0 677.5L-2.0 675.6L4.0 673.8L10.0 671.9L16.0 670.0L22.0 668.0L28.0 666.0L34.0 664.0L40.0 661.8L46.0 659.6L52.0 657.4L58.0 655.0L64.0 652.5L70.0 650.0L76.0 647.3L82.0 644.5L88.0 641.6L94.0 638.5L100.0 635.3L106.0 631.9L112.0 628.4L118.0 624.7L124.0 620.9L130.0 617.0L136.0 613.1L142.0 609.1L148.0 605.1L154.0 601.1L160.0 597.1L166.0 593.2L172.0 589.5L178.0 585.8L184.0 582.3L190.0 578.9L196.0 575.7L202.0 572.6L208.0 569.6L214.0 566.7L220.0 563.9L226.0 561.2L232.0 558.6L238.0 556.1L244.0 553.6L250.0 551.1L256.0 548.7L262.0 546.3L268.0 543.8L274.0 541.4L280.0 539.0L286.0 536.5L292.0 534.0L298.0 531.6L304.0 529.1L310.0 526.6L316.0 524.1L322.0 521.6L328.0 519.2L334.0 516.8L340.0 514.4L346.0 512.1L352.0 509.9L358.0 507.6L364.0 505.5L370.0 503.4L376.0 501.4L382.0 499.5L388.0 497.7L394.0 495.9L400.0 494.3L406.0 492.8L412.0 491.4L418.0 490.1L424.0 489.0L430.0 488.0L436.0 487.1L442.0 486.4L448.0 485.8L454.0 485.4L460.0 485.1L466.0 484.9L472.0 484.9L478.0 485.0L484.0 485.2L490.0 485.6L496.0 486.1L502.0 486.7L508.0 487.4L514.0 488.2L520.0 489.2L526.0 490.2L532.0 491.4L538.0 492.6L544.0 494.0L550.0 495.4L556.0 497.0L562.0 498.6L568.0 500.3L574.0 502.1L580.0 504.0L586.0 506.0L592.0 508.0L598.0 510.1L604.0 512.3L610.0 514.6L616.0 516.9L622.0 519.3L628.0 521.8L634.0 524.3L640.0 526.9L646.0 529.6L652.0 532.4L658.0 535.3L664.0 538.2L670.0 541.2L676.0 544.3L682.0 547.5L688.0 550.7L694.0 554.1L700.0 557.5L706.0 561.0L712.0 564.6L718.0 568.2L724.0 571.9L730.0 575.7L736.0 579.4L742.0 583.2L748.0 586.9L754.0 590.7L760.0 594.4L766.0 598.0L772.0 601.6L778.0 605.2L784.0 608.7L790.0 612.1L796.0 615.5L802.0 618.8L808.0 622.0L814.0 625.2L820.0 628.3L826.0 631.3L832.0 634.3L838.0 637.2L844.0 640.0L850.0 642.8L856.0 645.5L862.0 648.2L868.0 650.8L874.0 653.3L880.0 655.7L886.0 658.1L892.0 660.4L898.0 662.7L904.0 664.9L910.0 667.0L916.0 669.0L922.0 671.0L928.0 672.9L934.0 674.8L940.0 676.6L946.0 678.3L952.0 680.0L958.0 681.6L964.0 683.1L970.0 684.5L976.0 685.9L982.0 687.2L988.0 688.5L994.0 689.7L1000.0 690.8L1006.0 691.8L1012.0 692.8L1018.0 693.7L1024.0 694.6L1030.0 695.4L1036.0 696.1L1042.0 696.7L1048.0 697.3L1054.0 697.8L1060.0 698.2L1066.0 698.6L1072.0 698.9L1078.0 699.1L1084.0 699.3L1090.0 699.4L1096.0 699.4L1102.0 699.4L1108.0 699.2L1114.0 699.1L1120.0 698.8L1126.0 698.5L1132.0 698.1L1138.0 697.6L1144.0 697.1L1150.0 696.5L1156.0 695.8L1162.0 695.1L1168.0 694.3L1174.0 693.4L1180.0 692.5L1186.0 691.4L1192.0 690.3L1198.0 689.2L1204.0 688.0L1210.0 686.6L1216.0 685.3L1222.0 683.8L1228.0 682.3L1234.0 680.7L1240.0 679.1L1246.0 677.3L1252.0 675.5L1258.0 673.7L1264.0 671.7L1270.0 669.7L1276.0 667.6L1282.0 665.5L1288.0 663.2L1294.0 660.9L1300.0 658.6L1306.0 656.1L1312.0 653.6L1318.0 651.0L1324.0 648.3L1330.0 645.6L1336.0 642.8L1342.0 640.0L1348.0 637.1L1354.0 634.2L1360.0 631.2L1366.0 628.2L1372.0 625.2L1378.0 622.2L1384.0 619.2L1390.0 616.2L1396.0 613.1L1402.0 610.1L1408.0 607.1L1414.0 604.1L1420.0 601.2L1426.0 598.3L1432.0 595.4L1438.0 592.6L1444.0 589.8L1450.0 587.1L1456.0 584.4L1462.0 581.8L1468.0 579.3L1474.0 576.8L1480.0 574.4L1486.0 572.0L1492.0 569.7L1498.0 567.4L1504.0 565.1L1510.0 562.8L1516.0 560.5L1522.0 558.3L1528.0 556.0L1534.0 553.8L1540.0 551.5L1546.0 549.2L1552.0 546.9L1558.0 544.6L1564.0 542.2L1570.0 539.7L1576.0 537.3L1582.0 534.7L1588.0 532.2L1594.0 529.6L1600.0 527.1L1606.0 524.5L1612.0 522.0L1618.0 519.4L1624.0 517.0L1630.0 514.5L1636.0 512.2L1642.0 509.9L1648.0 507.7L1654.0 505.6L1660.0 503.6L1666.0 501.7L1672.0 499.9L1678.0 498.3L1684.0 496.8L1690.0 495.5L1696.0 494.2L1702.0 493.1L1708.0 492.1L1714.0 491.2L1720.0 490.3L1726.0 489.6L1732.0 488.9L1738.0 488.4L1744.0 487.9L1750.0 487.5L1756.0 487.1L1762.0 486.8L1768.0 486.6L1774.0 486.4L1780.0 486.3L1786.0 486.2L1792.0 486.2L1798.0 486.2L1804.0 486.2L1810.0 486.3L1816.0 486.3L1822.0 486.4L1828.0 486.5"/>
<clipPath id="ribA"><use href="#pRibA"/></clipPath>
<clipPath id="ribB"><use href="#pRibB"/></clipPath>
<filter id="soft2" x="-20%" y="-20%" width="140%" height="140%"><feGaussianBlur stdDeviation="2"/></filter>
<filter id="soft3" x="-20%" y="-20%" width="140%" height="140%"><feGaussianBlur stdDeviation="1.6"/></filter>
<filter id="soft" x="-2%" y="-10%" width="104%" height="120%"><feGaussianBlur stdDeviation="1.1"/></filter>
</defs>
<rect width="1810" height="1810" fill="#e5f9c0"/>
<g filter="url(#soft)">
<linearGradient id="yB" gradientUnits="userSpaceOnUse" x1="0" y1="0" x2="1810" y2="0">
<stop offset="0.0000" stop-color="#ffd860" stop-opacity="0.00"/>
<stop offset="0.2127" stop-color="#ffd860" stop-opacity="0.00"/>
<stop offset="0.2254" stop-color="#ffd860" stop-opacity="1.00"/>
<stop offset="0.2630" stop-color="#ffd860" stop-opacity="1.00"/>
<stop offset="0.2707" stop-color="#ffd860" stop-opacity="0.00"/>
<stop offset="1.0000" stop-color="#ffd860" stop-opacity="0.00"/>
</linearGradient>
<linearGradient id="yA" gradientUnits="userSpaceOnUse" x1="0" y1="0" x2="1810" y2="0">
<stop offset="0.0000" stop-color="#c8ee74" stop-opacity="0.00"/>
<stop offset="0.5635" stop-color="#c8ee74" stop-opacity="0.00"/>
<stop offset="0.5856" stop-color="#c8ee74" stop-opacity="0.80"/>
<stop offset="0.7182" stop-color="#c8ee74" stop-opacity="0.50"/>
<stop offset="0.7735" stop-color="#c8ee74" stop-opacity="0.00"/>
<stop offset="1.0000" stop-color="#c8ee74" stop-opacity="0.00"/>
</linearGradient>
<g clip-path="url(#cB_a)">
<use href="#pRibB" fill="url(#gB)"/>
<g clip-path="url(#ribB)" fill="none">
<use href="#pLB" transform="translate(0,-6)" stroke="url(#tB)" stroke-width="13"/>
<use href="#pUB" transform="translate(0,16)" stroke="url(#yB)" stroke-width="14"/>
<path d="M398 477.6L430 478.6L463 480.8" stroke="#8a4e1e" stroke-width="3.2" fill="none"/>
<path d="M1640.0 511.6L1646.0 509.4L1652.0 507.3L1658.0 505.2L1664.0 503.3L1670.0 501.5L1676.0 499.9L1682.0 498.3L1688.0 496.9L1694.0 495.6L1700.0 494.5L1706.0 493.4L1712.0 492.4L1718.0 491.6L1724.0 490.8L1730.0 490.1L1736.0 489.6L1742.0 489.0L1748.0 488.6L1754.0 488.2L1754.0 487.2L1748.0 485.5L1742.0 483.9L1736.0 482.4L1730.0 480.9L1724.0 479.4L1718.0 478.1L1712.0 476.7L1706.0 475.5L1700.0 474.3L1694.0 473.2L1688.0 472.2L1682.0 471.2L1676.0 470.2L1670.0 469.3L1664.0 468.4L1658.0 467.6L1652.0 466.8L1646.0 466.0L1640.0 465.2Z" fill="#8ed8a4"/>
<use href="#pUB" transform="translate(0,6.5)" stroke="url(#hB)" stroke-width="10.0"/>
</g>
<use href="#pUB" fill="none" stroke="url(#oB)" stroke-width="4.0"/>
<use href="#pLB" fill="none" stroke="url(#oB)" stroke-width="4.0"/>
</g>
<g clip-path="url(#cA_a)">
<use href="#pRibA" fill="url(#gA)"/>
<g clip-path="url(#ribA)" fill="none">
<use href="#pLA" transform="translate(0,-6)" stroke="url(#tA)" stroke-width="13"/>
<use href="#pUA" transform="translate(0,16)" stroke="url(#yA)" stroke-width="14"/>
<path d="M-5 484L62 518L66 525L34 521.5L-5 517Z" fill="#fbeee4" filter="url(#soft2)"/>
<path d="M1339.5 462L1399 481L1449 502L1484 519L1440.6 518.5L1407.5 520L1366 513.5L1339.5 506.3Z" fill="#f3f9d0" filter="url(#soft3)"/>
<path d="M1088 477.3L1140 478.6L1187 479.5" stroke="#3f6e22" stroke-width="3" fill="none"/>
<use href="#pUA" transform="translate(0,6.5)" stroke="url(#hA)" stroke-width="10.0"/>
</g>
<use href="#pUA" fill="none" stroke="url(#oA)" stroke-width="4.0"/>
<use href="#pLA" fill="none" stroke="url(#oA)" stroke-width="4.0"/>
</g>
<path d="M858 568L893.5 545.5L893 587L870 580Z" fill="#a6e066"/>
<path d="M1540 553L1573.5 536.5L1578 575L1556 566Z" fill="#8cdba6"/>
<g clip-path="url(#cA_d)">
<use href="#pRibA" fill="url(#gA)"/>
<g clip-path="url(#ribA)" fill="none">
<use href="#pLA" transform="translate(0,-6)" stroke="url(#tA)" stroke-width="13"/>
<use href="#pUA" transform="translate(0,16)" stroke="url(#yA)" stroke-width="14"/>
<path d="M-5 484L62 518L66 525L34 521.5L-5 517Z" fill="#fbeee4" filter="url(#soft2)"/>
<path d="M1339.5 462L1399 481L1449 502L1484 519L1440.6 518.5L1407.5 520L1366 513.5L1339.5 506.3Z" fill="#f3f9d0" filter="url(#soft3)"/>
<path d="M1088 477.3L1140 478.6L1187 479.5" stroke="#3f6e22" stroke-width="3" fill="none"/>
<use href="#pUA" transform="translate(0,6.5)" stroke="url(#hA)" stroke-width="10.0"/>
</g>
<use href="#pUA" fill="none" stroke="url(#oA)" stroke-width="4.0"/>
<use href="#pLA" fill="none" stroke="url(#oA)" stroke-width="4.0"/>
</g>
<g clip-path="url(#cB_d)">
<use href="#pRibB" fill="url(#gB)"/>
<g clip-path="url(#ribB)" fill="none">
<use href="#pLB" transform="translate(0,-6)" stroke="url(#tB)" stroke-width="13"/>
<use href="#pUB" transform="translate(0,16)" stroke="url(#yB)" stroke-width="14"/>
<path d="M398 477.6L430 478.6L463 480.8" stroke="#8a4e1e" stroke-width="3.2" fill="none"/>
<path d="M1640.0 511.6L1646.0 509.4L1652.0 507.3L1658.0 505.2L1664.0 503.3L1670.0 501.5L1676.0 499.9L1682.0 498.3L1688.0 496.9L1694.0 495.6L1700.0 494.5L1706.0 493.4L1712.0 492.4L1718.0 491.6L1724.0 490.8L1730.0 490.1L1736.0 489.6L1742.0 489.0L1748.0 488.6L1754.0 488.2L1754.0 487.2L1748.0 485.5L1742.0 483.9L1736.0 482.4L1730.0 480.9L1724.0 479.4L1718.0 478.1L1712.0 476.7L1706.0 475.5L1700.0 474.3L1694.0 473.2L1688.0 472.2L1682.0 471.2L1676.0 470.2L1670.0 469.3L1664.0 468.4L1658.0 467.6L1652.0 466.8L1646.0 466.0L1640.0 465.2Z" fill="#8ed8a4"/>
<use href="#pUB" transform="translate(0,6.5)" stroke="url(#hB)" stroke-width="10.0"/>
</g>
<use href="#pUB" fill="none" stroke="url(#oB)" stroke-width="4.0"/>
<use href="#pLB" fill="none" stroke="url(#oB)" stroke-width="4.0"/>
</g>
<path d="M195.6 559.5L236 556L221 607.5L181 583.5Z" fill="#ffd45c"/>
<path d="M237.5 553.5L220.5 608" stroke="#54481a" stroke-width="6.5" fill="none"/>
<path d="M181 583.5L195.6 559.5" stroke="#54481a" stroke-width="2.5" fill="none"/>
<linearGradient id="rg1" gradientUnits="userSpaceOnUse" x1="0" y1="500" x2="0" y2="659">
<stop offset="-0.0063" stop-color="#ffb85c"/>
<stop offset="0.2516" stop-color="#ffce60"/>
<stop offset="1.0000" stop-color="#ffd262"/>
</linearGradient>
<path d="M322.5 508.0L367.5 500.0L354.5 659.0L307.5 647.0Z" fill="url(#rg1)"/>
<path d="M317.3 556.0L362.9 556.0L361.6 572.6L315.5 572.6Z" fill="#fdf0d8"/>
<path d="M322.5 508.0L307.5 647.0M367.5 500.0L354.5 659.0" fill="none" stroke="#54481a" stroke-width="7.0"/>
<linearGradient id="rg2" gradientUnits="userSpaceOnUse" x1="0" y1="481" x2="0" y2="660">
<stop offset="0.0000" stop-color="#ffa855"/>
<stop offset="0.1899" stop-color="#ffb45c"/>
<stop offset="0.3296" stop-color="#ffd460"/>
<stop offset="0.6648" stop-color="#c8e868"/>
<stop offset="1.0000" stop-color="#bfe664"/>
</linearGradient>
<path d="M464.8 481.0L511.0 482.0L511.0 659.0L459.8 660.0Z" fill="url(#rg2)"/>
<path d="M464.8 481.0L459.8 660.0M511.0 482.0L511.0 659.0" fill="none" stroke="#54481a" stroke-width="8.3"/>
<rect x="447.8" y="540.6" width="75.2" height="62.4" fill="#e5f9c0"/>
<linearGradient id="rg3" gradientUnits="userSpaceOnUse" x1="0" y1="514.5" x2="0" y2="628">
<stop offset="-0.0044" stop-color="#86d7a4"/>
<stop offset="0.4009" stop-color="#86d7a4"/>
<stop offset="0.5330" stop-color="#8ee6cc"/>
<stop offset="0.7533" stop-color="#8ee6cc"/>
<stop offset="0.8062" stop-color="#8cd768"/>
<stop offset="1.0000" stop-color="#8cd768"/>
</linearGradient>
<path d="M609.0 514.5L656.5 539.4L656.5 616.0L609.0 628.0Z" fill="url(#rg3)"/>
<path d="M609.0 514.5L609.0 628.0M656.5 539.4L656.5 616.0" fill="none" stroke="#3c4a12" stroke-width="8.3"/>
<path d="M892.5 547L892 585" stroke="#3c4a12" stroke-width="5.5" fill="none"/>
<linearGradient id="rg5" gradientUnits="userSpaceOnUse" x1="0" y1="500" x2="0" y2="649">
<stop offset="0.0000" stop-color="#b4e868"/>
<stop offset="0.2013" stop-color="#c8ec68"/>
<stop offset="0.9933" stop-color="#c8ec68"/>
</linearGradient>
<path d="M986.5 508.0L1034.0 500.0L1030.0 649.0L978.5 628.0Z" fill="url(#rg5)"/>
<path d="M983.2 557.0L1032.5 557.0L1032.0 574.0L982.1 574.0Z" fill="#f4fbd8"/>
<path d="M986.5 508.0L978.5 628.0M1034.0 500.0L1030.0 649.0" fill="none" stroke="#3c4a12" stroke-width="8.0"/>
<linearGradient id="rg6" gradientUnits="userSpaceOnUse" x1="0" y1="482" x2="0" y2="658">
<stop offset="0.0000" stop-color="#c0ec68"/>
<stop offset="0.3295" stop-color="#c0ec68"/>
<stop offset="0.6705" stop-color="#96e08c"/>
<stop offset="1.0000" stop-color="#96e08c"/>
</linearGradient>
<path d="M1143.7 482.0L1192.3 482.0L1192.0 657.0L1143.0 658.0Z" fill="url(#rg6)"/>
<path d="M1143.7 482.0L1143.0 658.0M1192.3 482.0L1192.0 657.0" fill="none" stroke="#3c4a12" stroke-width="8.3"/>
<rect x="1131.0" y="538.8" width="73.3" height="62.0" fill="#e5f9c0"/>
<linearGradient id="rg7" gradientUnits="userSpaceOnUse" x1="0" y1="504" x2="0" y2="621">
<stop offset="-0.0085" stop-color="#84d796"/>
<stop offset="0.3504" stop-color="#84d796"/>
<stop offset="0.4359" stop-color="#a4e6d2"/>
<stop offset="0.6496" stop-color="#a4e6d2"/>
<stop offset="0.7521" stop-color="#7cd296"/>
<stop offset="1.0171" stop-color="#7cd296"/>
</linearGradient>
<path d="M1297.5 504.0L1347.5 528.0L1339.0 613.0L1289.0 621.0Z" fill="url(#rg7)"/>
<path d="M1297.5 504.0L1289.0 621.0M1347.5 528.0L1339.0 613.0" fill="none" stroke="#3c4a12" stroke-width="8.3"/>
<path d="M1572.5 538L1577 573" stroke="#3c4a12" stroke-width="6" fill="none"/>
<linearGradient id="rg9" gradientUnits="userSpaceOnUse" x1="0" y1="489" x2="0" y2="647">
<stop offset="0.0063" stop-color="#c0ec68"/>
<stop offset="1.0063" stop-color="#c4ec6c"/>
</linearGradient>
<path d="M1669.0 496.0L1719.0 489.0L1730.5 647.0L1677.5 627.0Z" fill="url(#rg9)"/>
<path d="M1672.8 554.0L1723.7 554.0L1725.2 574.0L1674.1 574.0Z" fill="#f4fbd8"/>
<path d="M1669.0 496.0L1677.5 627.0M1719.0 489.0L1730.5 647.0" fill="none" stroke="#3c4a12" stroke-width="8.0"/>
</g>
<text x="398.8" y="589.6" font-family="Liberation Sans, sans-serif" font-size="50.0" font-weight="400" fill="#141414" text-anchor="start" >~20%</text>
<text x="1104.5" y="589.0" font-family="Liberation Sans, sans-serif" font-size="50.0" font-weight="400" fill="#141414" text-anchor="start" >~80%</text>
<text x="295.7" y="190.5" font-family="Liberation Sans, sans-serif" font-size="155.0" font-weight="400" fill="#659649" text-anchor="start" letter-spacing="-1.05">Soybean genome</text>
<text x="202.5" y="839.5" font-family="Liberation Sans, sans-serif" font-size="103.3" font-weight="700" fill="#659649" text-anchor="start" >Genic</text>
<text x="1105.0" y="834.5" font-family="Liberation Sans, sans-serif" font-size="103.0" font-weight="700" fill="#659649" text-anchor="start" >Intergenic</text>
<text x="722.0" y="1081.4" font-family="Liberation Sans, sans-serif" font-size="103.5" font-weight="700" fill="#659649" text-anchor="start" >Trait</text>
<text x="163.0" y="1169.0" font-family="Liberation Sans, sans-serif" font-size="102.5" font-weight="700" fill="#659649" text-anchor="start" >Main effect</text>
<text x="958.0" y="1171.0" font-family="Liberation Sans, sans-serif" font-size="102.5" font-weight="700" fill="#659649" text-anchor="start" >Regulatory effect</text>
<text x="393.0" y="1627.4" font-family="Liberation Sans, sans-serif" font-size="103.2" font-weight="700" fill="#659649" text-anchor="start" >Trait genic-intergenic</text>
<text x="547.0" y="1749.7" font-family="Liberation Sans, sans-serif" font-size="102.0" font-weight="700" fill="#659649" text-anchor="start" >genetic system</text>
<g fill="none" stroke="#93dea3">
<path d="M490.5 801.3H1103" stroke-width="6"/>
<path d="M346.2 863.3V1042.8H672" stroke-width="12.4"/>
<path d="M1363 856.7V1042.6H1007" stroke-width="12.6"/>
<path d="M423 1188.2L872.4 1309.3L1362 1198" stroke-width="5.5" stroke-linejoin="miter"/>
<path d="M872 1307V1474" stroke-width="12.8"/>
</g>
<g fill="#93dea3">
<path d="M669.6 1017.8L720.3 1043L669.6 1068.2Z"/>
<path d="M1009.3 1017.8L959.2 1043L1009.3 1068.2Z"/>
<path d="M846.6 1470.2H898L872.3 1520.6Z"/>
</g>
</svg>
</body></html>
